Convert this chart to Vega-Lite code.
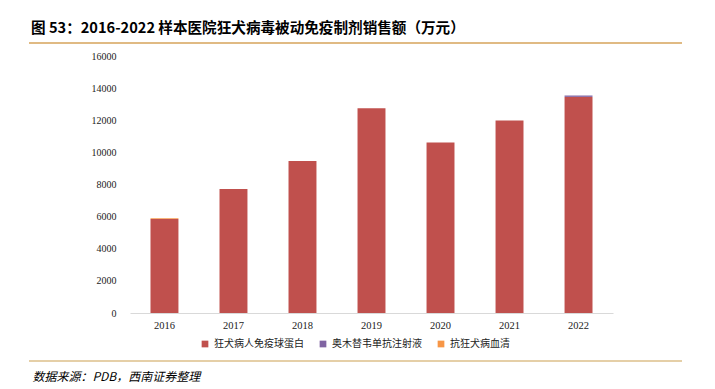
{
  "$schema": "https://vega.github.io/schema/vega-lite/v6.json",
  "width": 483,
  "height": 257,
  "autosize": {"type": "none"},
  "padding": {"left": 130, "top": 56, "right": 102, "bottom": 76},
  "background": "white",
  "config": {
    "view": {"stroke": null},
    "font": "Noto Sans CJK SC"
  },
  "title": {
    "text": "图 53：2016-2022 样本医院狂犬病毒被动免疫制剂销售额（万元）",
    "anchor": "start",
    "frame": "group",
    "dx": -99,
    "offset": 7,
    "font": "Noto Sans CJK SC",
    "fontSize": 14.6,
    "fontWeight": "bold",
    "color": "#000000"
  },
  "layer": [
    {
      "data": {
        "values": [
          {"year": "2016", "series": "狂犬病人免疫球蛋白", "ord": 1, "value": 5855},
          {"year": "2016", "series": "奥木替韦单抗注射液", "ord": 2, "value": 0},
          {"year": "2016", "series": "抗狂犬病血清", "ord": 3, "value": 45},
          {"year": "2017", "series": "狂犬病人免疫球蛋白", "ord": 1, "value": 7720},
          {"year": "2017", "series": "奥木替韦单抗注射液", "ord": 2, "value": 0},
          {"year": "2017", "series": "抗狂犬病血清", "ord": 3, "value": 0},
          {"year": "2018", "series": "狂犬病人免疫球蛋白", "ord": 1, "value": 9460},
          {"year": "2018", "series": "奥木替韦单抗注射液", "ord": 2, "value": 0},
          {"year": "2018", "series": "抗狂犬病血清", "ord": 3, "value": 0},
          {"year": "2019", "series": "狂犬病人免疫球蛋白", "ord": 1, "value": 12750},
          {"year": "2019", "series": "奥木替韦单抗注射液", "ord": 2, "value": 0},
          {"year": "2019", "series": "抗狂犬病血清", "ord": 3, "value": 0},
          {"year": "2020", "series": "狂犬病人免疫球蛋白", "ord": 1, "value": 10610},
          {"year": "2020", "series": "奥木替韦单抗注射液", "ord": 2, "value": 0},
          {"year": "2020", "series": "抗狂犬病血清", "ord": 3, "value": 0},
          {"year": "2021", "series": "狂犬病人免疫球蛋白", "ord": 1, "value": 11985},
          {"year": "2021", "series": "奥木替韦单抗注射液", "ord": 2, "value": 0},
          {"year": "2021", "series": "抗狂犬病血清", "ord": 3, "value": 0},
          {"year": "2022", "series": "狂犬病人免疫球蛋白", "ord": 1, "value": 13455},
          {"year": "2022", "series": "奥木替韦单抗注射液", "ord": 2, "value": 85},
          {"year": "2022", "series": "抗狂犬病血清", "ord": 3, "value": 0}
        ]
      },
      "mark": {"type": "bar"},
      "encoding": {
        "x": {
          "field": "year",
          "type": "nominal",
          "scale": {"paddingInner": 0.595, "paddingOuter": 0.297},
          "axis": {
            "title": "数据来源：PDB，西南证券整理",
            "titleX": -98,
            "titleY": 63,
            "titleAlign": "left",
            "titleBaseline": "middle",
            "titleAnchor": null,
            "titleFont": "Noto Sans CJK SC",
            "titleFontStyle": "italic",
            "titleFontWeight": "normal",
            "titleFontSize": 12,
            "titleColor": "#000000",
            "labelAngle": 0,
            "labelFont": "Liberation Serif",
            "labelFontSize": 10.5,
            "labelColor": "#222222",
            "labelPadding": 7,
            "ticks": false,
            "domainColor": "#d9d9d9",
            "domainWidth": 1
          }
        },
        "y": {
          "field": "value",
          "type": "quantitative",
          "stack": "zero",
          "scale": {"domain": [0, 16000], "nice": false},
          "axis": {
            "title": null,
            "values": [0, 2000, 4000, 6000, 8000, 10000, 12000, 14000, 16000],
            "format": "d",
            "grid": false,
            "domain": false,
            "ticks": false,
            "labelFont": "Liberation Serif",
            "labelFontSize": 10,
            "labelColor": "#222222",
            "labelPadding": 14
          }
        },
        "color": {
          "field": "series",
          "type": "nominal",
          "sort": ["狂犬病人免疫球蛋白", "奥木替韦单抗注射液", "抗狂犬病血清"],
          "scale": {
            "domain": ["狂犬病人免疫球蛋白", "奥木替韦单抗注射液", "抗狂犬病血清"],
            "range": ["#C0504D", "#8064A2", "#F79646"]
          },
          "legend": {
            "title": null,
            "orient": "none",
            "direction": "horizontal",
            "legendX": 70,
            "legendY": 283,
            "symbolType": "square",
            "symbolSize": 45,
            "symbolStrokeWidth": 0,
            "labelFont": "Noto Sans CJK SC",
            "labelFontSize": 10,
            "labelColor": "#222222",
            "labelOffset": 4,
            "columnPadding": 14
          }
        },
        "order": {"field": "ord", "type": "quantitative"}
      }
    },
    {
      "data": {"values": [{"line": "top"}]},
      "mark": {"type": "rule", "strokeWidth": 1.6, "color": "#D6A35A"},
      "encoding": {
        "x": {"value": -101},
        "x2": {"value": 552},
        "y": {"value": -13}
      }
    },
    {
      "data": {"values": [{"line": "bottom"}]},
      "mark": {"type": "rule", "strokeWidth": 1.6, "color": "#DDBF8A"},
      "encoding": {
        "x": {"value": -101},
        "x2": {"value": 552},
        "y": {"value": 305}
      }
    }
  ]
}
